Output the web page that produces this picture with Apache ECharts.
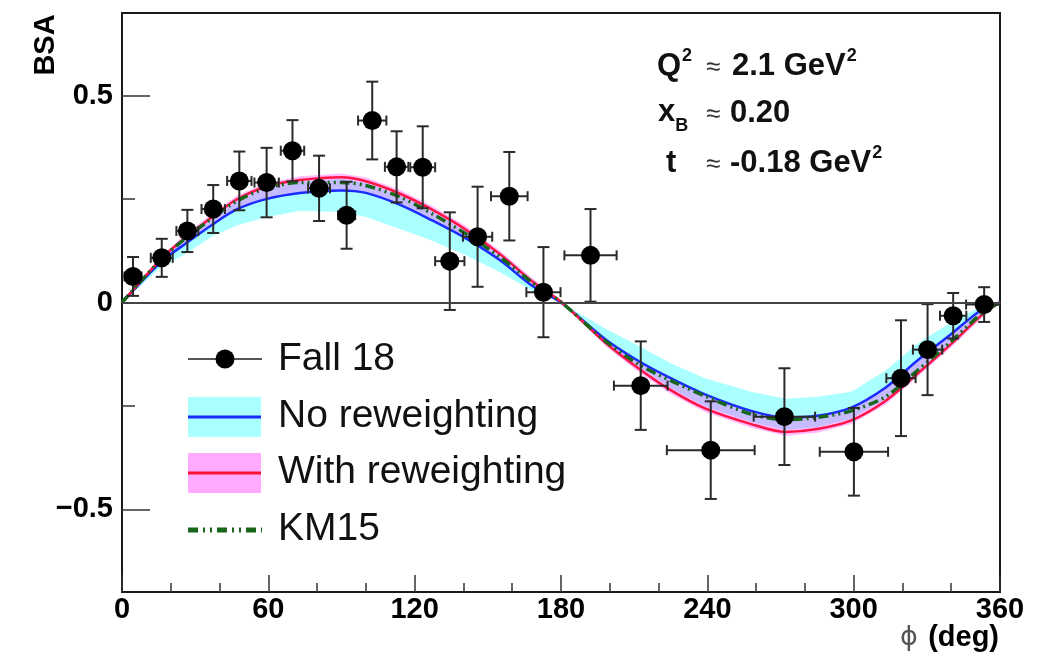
<!DOCTYPE html>
<html>
<head>
<meta charset="utf-8">
<script src="https://cdn.jsdelivr.net/npm/echarts@6.0.0/dist/echarts.min.js"></script>
<style>
html,body{margin:0;padding:0;background:#fff;}
#chart{width:1061px;height:653px;}
</style>
</head>
<body>
<div id="chart"></div>
<script>
// ---- data points (Fall 18) ----
const phiPts  = [4.5, 16.3, 26.8, 37.4, 48.1, 59.3, 69.9, 80.8, 92.1, 102.6, 112.6, 123.3, 134.4, 145.8, 158.8, 172.8, 192.1, 212.7, 241.4, 271.6, 300.1, 319.4, 330.3, 340.8, 353.5];
const bsaPts  = [0.063, 0.108, 0.173, 0.226, 0.294, 0.290, 0.367, 0.276, 0.211, 0.440, 0.328, 0.327, 0.100, 0.159, 0.257, 0.025, 0.114, -0.201, -0.357, -0.276, -0.361, -0.183, -0.114, -0.032, -0.005];
const bsaErr  = [0.047, 0.046, 0.051, 0.058, 0.071, 0.084, 0.074, 0.079, 0.081, 0.094, 0.086, 0.099, 0.118, 0.121, 0.107, 0.109, 0.112, 0.107, 0.118, 0.117, 0.106, 0.140, 0.110, 0.055, 0.042];
const phiErr  = [3.5, 4.5, 4.5, 4.8, 5.0, 5.0, 4.8, 4.5, 3.5, 5.8, 4.8, 5.1, 6.0, 6.0, 7.5, 7.0, 10.7, 11.0, 18.0, 12.6, 14.0, 6.0, 6.0, 5.4, 7.4];

// ---- model curves ----
const phiCurve = [0,16,26,37,47,59,73,90,100,114,127,141,155,168,180,198,212,225,239,258,272,285,299,313,326,340,353,360];
const noRew    = [0,0.098,0.142,0.188,0.225,0.250,0.265,0.271,0.265,0.236,0.199,0.155,0.102,0.041,0,-0.088,-0.142,-0.183,-0.222,-0.262,-0.278,-0.274,-0.254,-0.206,-0.141,-0.076,-0.015,0];
const withRew  = [0,0.105,0.157,0.207,0.249,0.280,0.296,0.303,0.293,0.263,0.225,0.176,0.117,0.052,0.002,-0.096,-0.160,-0.212,-0.256,-0.294,-0.313,-0.306,-0.285,-0.238,-0.173,-0.100,-0.028,0];
const km15     = [0,0.104,0.155,0.204,0.245,0.276,0.290,0.290,0.283,0.255,0.215,0.166,0.110,0.049,0.001,-0.092,-0.150,-0.189,-0.226,-0.270,-0.283,-0.278,-0.262,-0.228,-0.165,-0.094,-0.024,0];
// uncertainty bands (inner edge = toward zero, outer edge = away from zero)
const noRewInner   = [0,0.085,0.117,0.160,0.186,0.206,0.222,0.219,0.207,0.178,0.150,0.114,0.073,0.029,0,-0.062,-0.105,-0.147,-0.183,-0.216,-0.233,-0.228,-0.216,-0.165,-0.100,-0.048,-0.007,0];
const noRewOuter   = [0,0.103,0.154,0.204,0.245,0.276,0.292,0.299,0.289,0.259,0.221,0.172,0.113,0.049,0.002,-0.092,-0.156,-0.207,-0.251,-0.289,-0.308,-0.301,-0.281,-0.234,-0.169,-0.097,-0.026,0];
const withRewInner = [0,0.097,0.141,0.187,0.224,0.249,0.264,0.270,0.264,0.235,0.198,0.154,0.101,0.040,0,-0.087,-0.141,-0.182,-0.221,-0.261,-0.277,-0.273,-0.253,-0.205,-0.140,-0.075,-0.014,0];
const withRewOuter = [0,0.112,0.165,0.216,0.258,0.289,0.305,0.312,0.302,0.272,0.234,0.185,0.125,0.060,0.006,-0.104,-0.169,-0.221,-0.265,-0.303,-0.322,-0.315,-0.294,-0.247,-0.181,-0.108,-0.035,0];

// ---- axis ticks ----
const yMajorTicks = [-0.5, 0, 0.5];
const yMinorTicks = [-0.25, 0.25];

const FONT = 'Liberation Sans';
const chart = echarts.init(document.getElementById('chart'), null, {renderer: 'canvas'});

const pairs = (xs, ys) => xs.map((x, i) => [x, ys[i]]);

const mctx = document.createElement('canvas').getContext('2d');
function textW(text, font) { mctx.font = font; return mctx.measureText(text).width; }

function bandSeries(inner, outer, style, z) {
  return {
    type: 'custom', clip: true, z: z, silent: true,
    data: [[phiCurve[0], inner[0]]],
    encode: {x: 0, y: 1},
    renderItem: function (params, api) {
      const pts = [];
      for (let i = 0; i < phiCurve.length; i++) pts.push(api.coord([phiCurve[i], outer[i]]));
      for (let i = phiCurve.length - 1; i >= 0; i--) pts.push(api.coord([phiCurve[i], inner[i]]));
      return {type: 'polygon', shape: {points: pts}, style: style};
    }
  };
}

// annotation helpers
const BIG = 'bold 31px "Liberation Sans"';
const SMALL = 'bold 18px "Liberation Sans"';
const APPROX = '26px "Liberation Sans"';
function txt(x, y, text, font, fill) {
  return {type: 'text', x: x, y: y, style: {text: text, font: font, fill: fill || '#111', align: 'left', verticalAlign: 'middle'}};
}
const annot = [];
// line 1: Q^2 ≈ 2.1 GeV^2
annot.push(txt(657, 66, 'Q', BIG));
annot.push(txt(657 + textW('Q', BIG) + 1, 56, '2', SMALL));
annot.push(txt(706, 68, '\u2248', APPROX, '#333'));
annot.push(txt(732, 66, '2.1 GeV', BIG));
annot.push(txt(732 + textW('2.1 GeV', BIG) + 1, 56, '2', SMALL));
// line 2: x_B ≈ 0.20
annot.push(txt(658, 112, 'x', BIG));
annot.push(txt(658 + textW('x', BIG) + 0, 126, 'B', SMALL));
annot.push(txt(706, 115, '\u2248', APPROX, '#333'));
annot.push(txt(730, 113, '0.20', BIG));
// line 3: t ≈ -0.18 GeV^2
annot.push(txt(666, 163, 't', BIG));
annot.push(txt(706, 165, '\u2248', APPROX, '#333'));
annot.push(txt(730, 163, '-0.18 GeV', BIG));
annot.push(txt(730 + textW('-0.18 GeV', BIG) + 1, 153, '2', SMALL));

const LEG = '39px "Liberation Sans"';
const SM = 0.3;
const option = {
  animation: false,
  backgroundColor: '#fff',
  grid: {left: 122, right: 61, top: 13, bottom: 61, show: true, borderColor: '#1a1a1a', borderWidth: 2, backgroundColor: 'transparent'},
  xAxis: {
    type: 'value', min: 0, max: 360, interval: 60,
    axisLine: {show: true, onZero: false, lineStyle: {color: '#1a1a1a', width: 2}},
    axisTick: {show: true, inside: true, length: 17, lineStyle: {color: '#333', width: 1.5}},
    minorTick: {show: true, splitNumber: 3, length: 9, lineStyle: {color: '#333', width: 1.5}},
    axisLabel: {fontFamily: FONT, fontWeight: 'bold', fontSize: 29, color: '#000', margin: 3},
    splitLine: {show: false}, minorSplitLine: {show: false}
  },
  yAxis: [{
    type: 'value', min: -0.7, max: 0.7,
    axisLine: {show: true, onZero: false, lineStyle: {color: '#1a1a1a', width: 2}},
    axisTick: {show: true, inside: true, length: 28, customValues: yMajorTicks, lineStyle: {color: '#333', width: 1.5}},
    axisLabel: {customValues: yMajorTicks, fontFamily: FONT, fontWeight: 'bold', fontSize: 29, color: '#000', margin: 9,
      formatter: v => v === 0 ? '0' : (v < 0 ? '\u2212' : '') + Math.abs(v)},
    splitLine: {show: false}
  }, {
    type: 'value', min: -0.7, max: 0.7, position: 'left',
    axisLine: {show: false},
    axisTick: {show: true, inside: true, length: 13, customValues: yMinorTicks, lineStyle: {color: '#333', width: 1.5}},
    axisLabel: {show: false},
    splitLine: {show: false}
  }],
  series: [
    {type: 'line', data: [], markLine: {silent: true, symbol: 'none', label: {show: false},
      lineStyle: {color: '#444', width: 2, type: 'solid'}, data: [{yAxis: 0}]}, z: 1},
    bandSeries(noRewInner, noRewOuter, {fill: '#aaffff'}, 1),
    bandSeries(withRewInner, withRewOuter, {fill: 'rgba(255,60,255,0.35)'}, 2),
    {name: 'No reweighting', type: 'line', data: pairs(phiCurve, noRew), symbol: 'none', smooth: SM,
      lineStyle: {color: '#1a2cff', width: 2.5}, z: 3},
    {name: 'With reweighting', type: 'line', data: pairs(phiCurve, withRew), symbol: 'none', smooth: SM,
      lineStyle: {color: '#ff1446', width: 2.5}, z: 3},
    {name: 'KM15', type: 'line', data: pairs(phiCurve, km15), symbol: 'none', smooth: SM,
      lineStyle: {color: '#17661a', width: 3.5, type: [10, 4, 2, 4, 2, 4], cap: 'butt'}, z: 3},
    {type: 'custom', clip: true, z: 4,
      data: phiPts.map((p, i) => [p, bsaPts[i], bsaErr[i], phiErr[i]]),
      encode: {x: 0, y: 1},
      renderItem: function (params, api) {
        const x = api.value(0), y = api.value(1), ey = api.value(2), ex = api.value(3);
        const top = api.coord([x, y + ey]), bot = api.coord([x, y - ey]);
        const l = api.coord([x - ex, y]), r = api.coord([x + ex, y]);
        const st = {stroke: '#2a2a2a', lineWidth: 2};
        const cw = 6, ch = 5;
        return {type: 'group', children: [
          {type: 'line', shape: {x1: top[0], y1: top[1], x2: bot[0], y2: bot[1]}, style: st},
          {type: 'line', shape: {x1: top[0] - cw, y1: top[1], x2: top[0] + cw, y2: top[1]}, style: st},
          {type: 'line', shape: {x1: bot[0] - cw, y1: bot[1], x2: bot[0] + cw, y2: bot[1]}, style: st},
          {type: 'line', shape: {x1: l[0], y1: l[1], x2: r[0], y2: r[1]}, style: st},
          {type: 'line', shape: {x1: l[0], y1: l[1] - ch, x2: l[0], y2: l[1] + ch}, style: st},
          {type: 'line', shape: {x1: r[0], y1: r[1] - ch, x2: r[0], y2: r[1] + ch}, style: st}
        ]};
      }
    },
    {name: 'Fall 18', type: 'scatter', data: pairs(phiPts, bsaPts), symbol: 'circle', symbolSize: 19,
      itemStyle: {color: '#000', opacity: 1}, z: 5}
  ],
  graphic: [
    // axis titles
    {type: 'text', x: 46, y: 45, rotation: Math.PI / 2,
      style: {text: 'BSA', font: 'bold 29px "Liberation Sans"', fill: '#000', align: 'center', verticalAlign: 'middle'}},
    {type: 'text', x: 909, y: 638,
      style: {text: '\u03D5', font: '27px "DejaVu Sans"', fill: '#555', align: 'center', verticalAlign: 'middle'}},
    {type: 'text', x: 999, y: 638,
      style: {text: '(deg)', font: 'bold 29px "Liberation Sans"', fill: '#000', align: 'right', verticalAlign: 'middle'}}
  ].concat(annot).concat([
    // legend
    {type: 'line', shape: {x1: 188, y1: 359, x2: 262, y2: 359}, style: {stroke: '#555', lineWidth: 2}},
    {type: 'circle', shape: {cx: 225, cy: 359, r: 9.5}, style: {fill: '#000'}},
    txt(278, 359, 'Fall 18', LEG),

    {type: 'rect', shape: {x: 188, y: 397, width: 73, height: 40}, style: {fill: '#aaffff'}},
    {type: 'line', shape: {x1: 188, y1: 417, x2: 261, y2: 417}, style: {stroke: '#1a2cff', lineWidth: 3}},
    txt(278, 416, 'No reweighting', LEG),

    {type: 'rect', shape: {x: 188, y: 453, width: 73, height: 40}, style: {fill: '#ffaaff'}},
    {type: 'line', shape: {x1: 188, y1: 473, x2: 261, y2: 473}, style: {stroke: '#ff1030', lineWidth: 3}},
    txt(278, 472, 'With reweighting', LEG),

    {type: 'line', shape: {x1: 188, y1: 530, x2: 262, y2: 530}, style: {stroke: '#17661a', lineWidth: 5, lineDash: [10, 5, 2, 5, 2, 5]}},
    txt(278, 529, 'KM15', LEG)
  ])
};
chart.setOption(option);
</script>
</body>
</html>
